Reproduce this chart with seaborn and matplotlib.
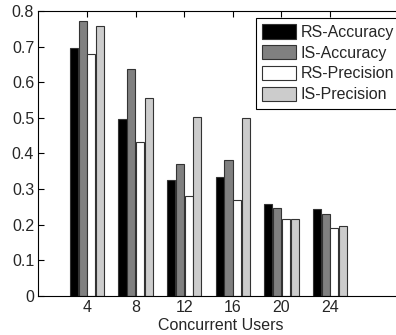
import matplotlib
matplotlib.use("Agg")
import matplotlib.pyplot as plt
import seaborn as sns
import pandas as pd

users = [4, 8, 12, 16, 20, 24]
series_names = ["RS-Accuracy", "IS-Accuracy", "RS-Precision", "IS-Precision"]
rs_accuracy = [0.695, 0.496, 0.325, 0.334, 0.259, 0.243]
is_accuracy = [0.771, 0.636, 0.369, 0.380, 0.246, 0.230]
rs_precision = [0.678, 0.433, 0.279, 0.268, 0.215, 0.190]
is_precision = [0.757, 0.556, 0.501, 0.499, 0.215, 0.195]
colors = ["#000000", "#808080", "#ffffff", "#cccccc"]

rows = []
for name, vals in zip(series_names, [rs_accuracy, is_accuracy, rs_precision, is_precision]):
    for u, v in zip(users, vals):
        rows.append({"users": u, "value": v, "series": name})
df = pd.DataFrame(rows)

sns.set_style("white")
plt.rcParams["font.family"] = ["Liberation Sans", "DejaVu Sans"]
fs = 11.5
plt.rcParams["font.size"] = fs

fig = plt.figure(figsize=(3.96, 3.35), dpi=100)
ax = fig.add_axes([38.4 / 396, 1 - 295.7 / 335, (403 - 38.4) / 396, (295.7 - 11) / 335])

sns.barplot(data=df, x="users", y="value", hue="series", hue_order=series_names,
            palette=colors, native_scale=True, width=0.72, gap=0.08,
            edgecolor="#333333", linewidth=0.8, ax=ax, legend=True)

ax.set_xlim(0, 30)
ax.set_ylim(0, 0.8)
ax.set_xticks(users)
ax.set_xticklabels([str(u) for u in users], fontsize=fs)
yt = [0, 0.1, 0.2, 0.3, 0.4, 0.5, 0.6, 0.7, 0.8]
ax.set_yticks(yt)
ax.set_yticklabels(["0" if v == 0 else f"{v:.1f}" for v in yt], fontsize=fs)
ax.tick_params(direction="in", length=4, width=0.8, top=True, right=True,
               bottom=True, left=True, color="black", pad=3)
for s in ax.spines.values():
    s.set_visible(True)
    s.set_color("black")
    s.set_linewidth(0.8)
ax.set_xlabel("Concurrent Users", fontsize=fs, labelpad=2)
ax.set_ylabel("")

handles, labels = ax.get_legend_handles_labels()
ax.legend(handles, labels, loc="upper left", bbox_to_anchor=(256 / 396, 1 - 18 / 335),
          bbox_transform=fig.transFigure, frameon=True, fancybox=False,
          edgecolor="black", framealpha=1, fontsize=fs, handlelength=2.1,
          handleheight=1.0, handletextpad=0.3, labelspacing=0.32, borderpad=0.4,
          borderaxespad=0)
ax.get_legend().get_frame().set_linewidth(0.8)

fig.savefig("out.png", dpi=100)
